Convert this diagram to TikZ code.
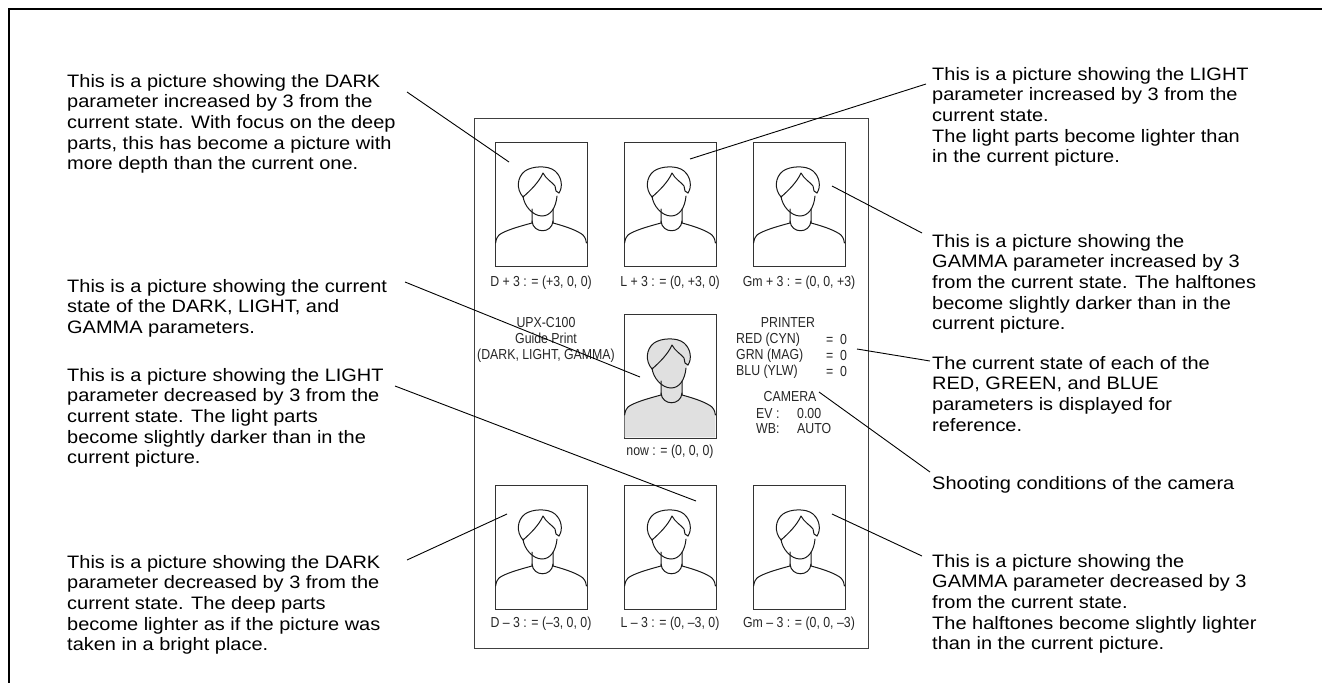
\documentclass[tikz,border=0pt]{standalone}
\usepackage{fontspec}
\setmainfont{Liberation Sans}
\newfontfamily\bodyfont{Liberation Sans}[FakeStretch=1.11]
\newfontfamily\capfont{Liberation Sans}[FakeStretch=0.85]

% outline of the head-and-shoulders figure, in a 92 x 124 frame
\newcommand\drawportraitlines{%
  \draw[face] (28,55) .. controls (21,47) and (22,35) .. (30,29)
              .. controls (37,24) and (53,23) .. (60,29)
              .. controls (67,35) and (68,45) .. (64,51);
  \draw[face] (28,54) .. controls (29,64) and (38,74) .. (47,74)
              .. controls (56,74) and (61,65) .. (62,54);
  \draw[face] (28,55) .. controls (36,48) and (44,40) .. (48,31)
              .. controls (51,37) and (57,40) .. (60,44) -- (61,49) -- (64,51);
  \draw[face] (37,67) -- (37,81) .. controls (22,85) and (9,89) .. (4,93)
              .. controls (1.5,96) and (0.6,99) .. (0.6,101);
  \draw[face] (58,67) -- (58,81) .. controls (73,85) and (83,89) .. (88,93)
              .. controls (90.5,96) and (91.4,99) .. (91.4,101);
  \draw[face] (37,79) .. controls (38,92) and (57,92) .. (58,79);
}

\begin{document}
\begin{tikzpicture}[x=1pt,y=-1pt,
  note/.style={anchor=north west, inner sep=0, align=left,
    font=\bodyfont\fontsize{18}{20.6}\selectfont},
  captext/.style={inner sep=0, text=black!85,
    font=\capfont\fontsize{14.5}{16}\selectfont},
  photo/.style={draw=black!80, line width=1.2pt, minimum width=92pt,
    minimum height=124pt, inner sep=0, anchor=north west},
  sheet/.style={draw=black!75, line width=0.9pt},
  leader/.style={line width=0.9pt},
  face/.style={line width=1pt, line join=round, line cap=round, draw=black!90},
  portrait/.pic={\drawportraitlines},
  portraitgray/.pic={
    \fill[black!12] (28,55) .. controls (21,47) and (22,35) .. (30,29)
        .. controls (37,24) and (53,23) .. (60,29)
        .. controls (67,35) and (68,45) .. (64,51) -- (62,54)
        .. controls (61,65) and (56,74) .. (47,74)
        .. controls (38,74) and (29,64) .. (28,54) -- cycle;
    \fill[black!12] (0.6,123.4) -- (0.6,101) .. controls (0.6,99) and (1.5,96) .. (4,93)
        .. controls (9,89) and (22,85) .. (37,81) -- (37,66) -- (58,66) -- (58,81)
        .. controls (73,85) and (83,89) .. (88,93)
        .. controls (90.5,96) and (91.4,99) .. (91.4,101) -- (91.4,123.4) -- cycle;
    \drawportraitlines
  }]

\useasboundingbox (0,0) rectangle (1322,683);

% outer frame, open towards the right and bottom
\draw[line width=2.6pt] (1322,9) -- (9,9) -- (9,683);

% the guide print sheet
\draw[sheet] (474,118) rectangle (868,648);

% photos
\node[photo] (pd) at (495,142) {};
\node[photo] (pl) at (624,142) {};
\node[photo] (pg) at (753,142) {};
\node[photo] (pc) at (624,314) {};
\node[photo] (qd) at (495,485) {};
\node[photo] (ql) at (624,485) {};
\node[photo] (qg) at (753,485) {};

\pic at (pd.north west) {portrait};
\pic at (pl.north west) {portrait};
\pic at (pg.north west) {portrait};
\pic at (pc.north west) {portraitgray};
\pic at (qd.north west) {portrait};
\pic at (ql.north west) {portrait};
\pic at (qg.north west) {portrait};

% captions under the photos
\node[captext] (cpd) at (541,283) {D + 3 : = (+3, 0, 0)};
\node[captext] (cpl) at (670,283) {L + 3 : = (0, +3, 0)};
\node[captext] (cpg) at (799,283) {Gm + 3 : = (0, 0, +3)};
\node[captext] (cpc) at (670,452) {now : = (0, 0, 0)};
\node[captext] (cqd) at (541,624) {D – 3 : = (–3, 0, 0)};
\node[captext] (cql) at (670,624) {L – 3 : = (0, –3, 0)};
\node[captext] (cqg) at (799,624) {Gm – 3 : = (0, 0, –3)};

% print information
\node[captext, align=center] (title) at (546,340) {UPX-C100\\Guide Print\\(DARK, LIGHT, GAMMA)};
\node[captext] (printer) at (788,323) {PRINTER};
\node[captext, anchor=west] (red) at (736,340) {RED (CYN)};
\node[captext, anchor=west] (grn) at (736,356) {GRN (MAG)};
\node[captext, anchor=west] (blu) at (736,372) {BLU (YLW)};
\node[captext, anchor=west] (redv) at (826,340) {=\ \ 0};
\node[captext, anchor=west] (grnv) at (826,356) {=\ \ 0};
\node[captext, anchor=west] (bluv) at (826,372) {=\ \ 0};
\node[captext] (camera) at (790,397) {CAMERA};
\node[captext, anchor=west] (ev) at (756,414) {EV :};
\node[captext, anchor=west] (evv) at (797,414) {0.00};
\node[captext, anchor=west] (wb) at (756,429) {WB:};
\node[captext, anchor=west] (wbv) at (797,429) {AUTO};

% explanations, left column
\node[note] (ndp) at (67,74) {This is a picture showing the DARK\\parameter increased by 3 from the\\current state. With focus on the deep\\parts, this has become a picture with\\more depth than the current one.};
\node[note] (nnow) at (67,279) {This is a picture showing the current\\state of the DARK, LIGHT, and\\GAMMA parameters.};
\node[note] (nlm) at (67,368) {This is a picture showing the LIGHT\\parameter decreased by 3 from the\\current state. The light parts\\become slightly darker than in the\\current picture.};
\node[note] (ndm) at (67,555) {This is a picture showing the DARK\\parameter decreased by 3 from the\\current state. The deep parts\\become lighter as if the picture was\\taken in a bright place.};

% explanations, right column
\node[note] (nlp) at (932,67) {This is a picture showing the LIGHT\\parameter increased by 3 from the\\current state.\\The light parts become lighter than\\in the current picture.};
\node[note] (ngp) at (932,234) {This is a picture showing the\\GAMMA parameter increased by 3\\from the current state. The halftones\\become slightly darker than in the\\current picture.};
\node[note] (nrgb) at (932,356) {The current state of each of the\\RED, GREEN, and BLUE\\parameters is displayed for\\reference.};
\node[note] (ncam) at (932,476) {Shooting conditions of the camera};
\node[note] (ngm) at (932,554) {This is a picture showing the\\GAMMA parameter decreased by 3\\from the current state.\\The halftones become slightly lighter\\than in the current picture.};

% leader line ends
\coordinate (a1) at (407,92);   \coordinate (b1) at (509,162);
\coordinate (a2) at (926,84);   \coordinate (b2) at (690,159);
\coordinate (a3) at (922,233);  \coordinate (b3) at (832,186);
\coordinate (a4) at (405,282);  \coordinate (b4) at (640,377);
\coordinate (a5) at (395,386);  \coordinate (b5) at (696,501);
\coordinate (a6) at (407,560);  \coordinate (b6) at (507,514);
\coordinate (a7) at (922,556);  \coordinate (b7) at (832,514);
\coordinate (a8) at (930,361);  \coordinate (b8) at (857,349);
\coordinate (a9) at (930,472);  \coordinate (b9) at (819,392);

\foreach \i in {1,...,9} \draw[leader] (a\i) -- (b\i);

\end{tikzpicture}
\end{document}
